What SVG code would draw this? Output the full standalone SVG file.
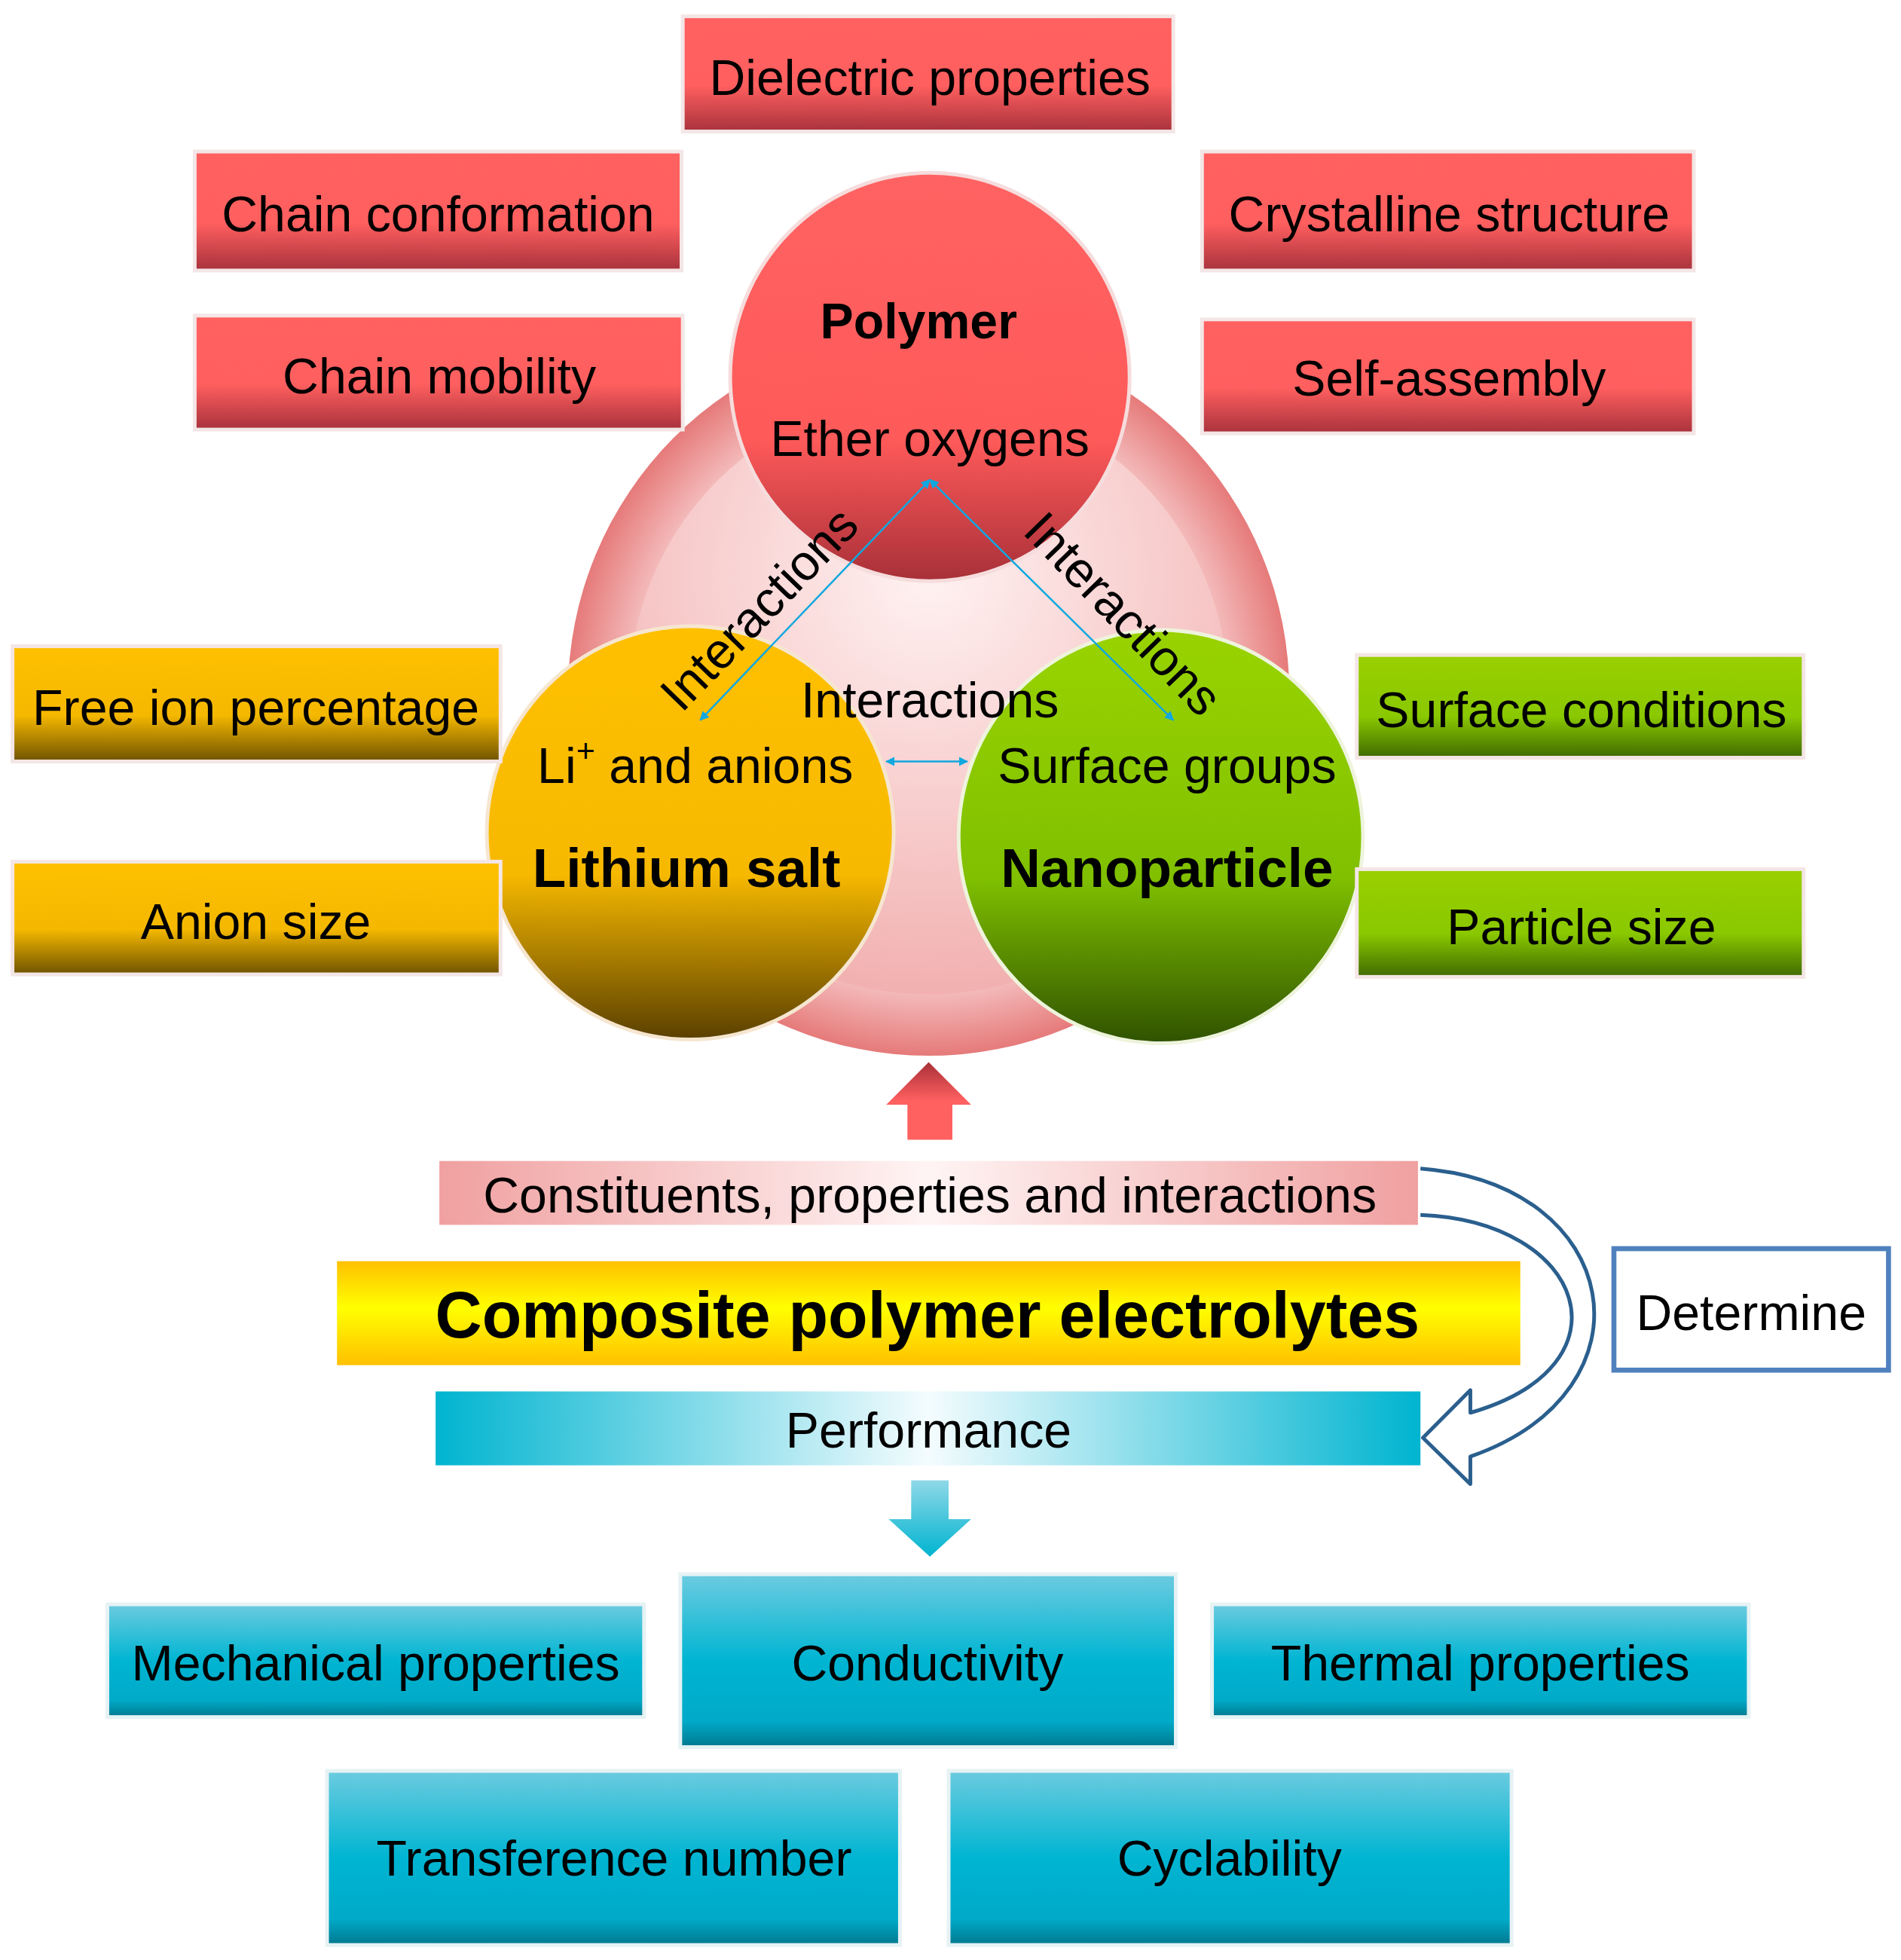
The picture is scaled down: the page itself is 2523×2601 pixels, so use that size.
<svg xmlns="http://www.w3.org/2000/svg" width="2523" height="2601" viewBox="0 0 2523 2601">
<defs>
<linearGradient id="gr" x1="0" y1="0" x2="0" y2="1"><stop offset="0" stop-color="#ff6060"/><stop offset="0.6" stop-color="#ff5f5f"/><stop offset="1" stop-color="#a8323c"/></linearGradient>
<linearGradient id="go" x1="0" y1="0" x2="0" y2="1"><stop offset="0" stop-color="#ffc000"/><stop offset="0.6" stop-color="#f5b800"/><stop offset="1" stop-color="#6e5200"/></linearGradient>
<linearGradient id="gg" x1="0" y1="0" x2="0" y2="1"><stop offset="0" stop-color="#99d000"/><stop offset="0.6" stop-color="#8ac800"/><stop offset="1" stop-color="#3f6a00"/></linearGradient>
<linearGradient id="gc" x1="0" y1="0" x2="0" y2="1"><stop offset="0" stop-color="#6ccbe0"/><stop offset="0.5" stop-color="#00b5d2"/><stop offset="0.85" stop-color="#00aac8"/><stop offset="1" stop-color="#00788f"/></linearGradient>
<linearGradient id="cpol" x1="0" y1="0" x2="0" y2="1"><stop offset="0" stop-color="#ff6262"/><stop offset="0.65" stop-color="#ff5a5a"/><stop offset="1" stop-color="#a83038"/></linearGradient>
<linearGradient id="clit" x1="0" y1="0" x2="0" y2="1"><stop offset="0" stop-color="#ffc000"/><stop offset="0.6" stop-color="#f7b900"/><stop offset="1" stop-color="#5a4000"/></linearGradient>
<linearGradient id="cnan" x1="0" y1="0" x2="0" y2="1"><stop offset="0" stop-color="#99d300"/><stop offset="0.6" stop-color="#80c000"/><stop offset="1" stop-color="#2f5200"/></linearGradient>
<radialGradient id="ring" cx="0.5" cy="0.5" r="0.5"><stop offset="0.8" stop-color="#f6c4c4"/><stop offset="1" stop-color="#e67a7a"/></radialGradient>
<radialGradient id="inner" cx="0.5" cy="0.3" r="0.7"><stop offset="0" stop-color="#fff2f2"/><stop offset="1" stop-color="#f2b0b0"/></radialGradient>
<linearGradient id="hpink" x1="0" y1="0" x2="1" y2="0"><stop offset="0" stop-color="#f0a0a0"/><stop offset="0.5" stop-color="#fff4f4"/><stop offset="1" stop-color="#f0a0a0"/></linearGradient>
<linearGradient id="hyel" x1="0" y1="0" x2="0" y2="1"><stop offset="0" stop-color="#ffc000"/><stop offset="0.45" stop-color="#ffff00"/><stop offset="1" stop-color="#ffc000"/></linearGradient>
<linearGradient id="hcy" x1="0" y1="0" x2="1" y2="0"><stop offset="0" stop-color="#00b4d0"/><stop offset="0.5" stop-color="#f4fcfe"/><stop offset="1" stop-color="#00b4d0"/></linearGradient>
<linearGradient id="redarr" x1="0" y1="0" x2="0" y2="1"><stop offset="0" stop-color="#a83038"/><stop offset="0.5" stop-color="#ff6060"/><stop offset="1" stop-color="#ff6060"/></linearGradient>
<linearGradient id="cyarr" x1="0" y1="0" x2="0" y2="1"><stop offset="0" stop-color="#8fd8e8"/><stop offset="1" stop-color="#00b4d0"/></linearGradient>
<marker id="ah" viewBox="0 0 10 10" refX="9" refY="5" markerWidth="5" markerHeight="5" orient="auto-start-reverse"><path d="M0,0 L10,5 L0,10 z" fill="#10a8e0"/></marker>
</defs>
<style>
text{font-family:"Liberation Sans",Arial,sans-serif;fill:#000;text-anchor:middle;dominant-baseline:central}
.t{font-size:40px}
.b{font-weight:bold}
.box{stroke:#f4e6e6;stroke-width:3}
.cbox{stroke:#e6f2f4;stroke-width:3}
.ln{stroke:#10a8e0;stroke-width:1.5;fill:none;marker-start:url(#ah);marker-end:url(#ah)}
</style>
<rect width="2523" height="2601" fill="#fff"/>
<g transform="scale(1.6566,1.662)">
<g id="ringbg"><circle cx="744" cy="554" r="289" fill="url(#ring)"/><circle cx="744" cy="554" r="240" fill="url(#inner)"/></g>
<g id="polymer"><ellipse cx="745" cy="301" rx="160" ry="163" fill="url(#cpol)" stroke="#f6dcdc" stroke-width="3"/><text x="736" y="256" class="t b">Polymer</text><text x="745" y="350" class="t">Ether oxygens</text></g>
<g id="lithium"><ellipse cx="553" cy="665" rx="163" ry="165" fill="url(#clit)" stroke="#f6e6d0" stroke-width="3"/><text x="557" y="611" class="t">Li<tspan dy="-12" font-size="26">+</tspan><tspan dy="12"> and anions</tspan></text><text x="550" y="693" class="b" font-size="44">Lithium salt</text></g>
<g id="nano"><ellipse cx="930" cy="668" rx="162" ry="165" fill="url(#cnan)" stroke="#eef4dc" stroke-width="3"/><text x="935" y="611" class="t">Surface groups</text><text x="935" y="693" class="b" font-size="44">Nanoparticle</text></g>
<g id="connectors">
<line x1="745" y1="383" x2="561" y2="575" class="ln"/>
<line x1="745" y1="383" x2="940" y2="575" class="ln"/>
<line x1="710" y1="608" x2="775" y2="608" class="ln"/>
<text x="745" y="559" class="t">Interactions</text>
<text transform="translate(608,486) rotate(-46)" class="t">Interactions</text>
<text transform="translate(900,490) rotate(46)" class="t">Interactions</text>
<path d="M710,882 L744,848 L778,882 L763,882 L763,910 L727,910 L727,882 Z" fill="url(#redarr)"/>
<path d="M1138,933 C1300,945 1330,1110 1178,1163 L1178,1185 L1140,1148 L1178,1110 L1178,1128 C1310,1090 1270,975 1138,970" fill="#fff" stroke="#2a5f8e" stroke-width="3" stroke-linejoin="round"/>
<path d="M730,1182 L760,1182 L760,1213 L778,1213 L745,1243 L712,1213 L730,1213 Z" fill="url(#cyarr)"/>
</g>
<g id="dielectric"><rect x="547" y="13" width="393" height="92" fill="url(#gr)" class="box"/><text x="745" y="62" class="t">Dielectric properties</text></g>
<g id="chainconf"><rect x="156" y="121" width="390" height="95" fill="url(#gr)" class="box"/><text x="351" y="171" class="t">Chain conformation</text></g>
<g id="crystal"><rect x="963" y="121" width="394" height="95" fill="url(#gr)" class="box"/><text x="1161" y="171" class="t">Crystalline structure</text></g>
<g id="chainmob"><rect x="156" y="252" width="391" height="91" fill="url(#gr)" class="box"/><text x="352" y="300" class="t">Chain mobility</text></g>
<g id="selfass"><rect x="963" y="255" width="394" height="91" fill="url(#gr)" class="box"/><text x="1161" y="302" class="t">Self-assembly</text></g>
<g id="freeion"><rect x="10" y="516" width="391" height="92" fill="url(#go)" class="box"/><text x="205" y="565" class="t">Free ion percentage</text></g>
<g id="anion"><rect x="10" y="688" width="391" height="90" fill="url(#go)" class="box"/><text x="205" y="736" class="t">Anion size</text></g>
<g id="surfcond"><rect x="1087" y="523" width="358" height="82" fill="url(#gg)" class="box"/><text x="1267" y="567" class="t">Surface conditions</text></g>
<g id="partsize"><rect x="1087" y="694" width="358" height="86" fill="url(#gg)" class="box"/><text x="1267" y="740" class="t">Particle size</text></g>
<g id="constituents"><rect x="352" y="927" width="784" height="51" fill="url(#hpink)"/><text x="745" y="954" class="t">Constituents, properties and interactions</text></g>
<g id="composite"><rect x="270" y="1007" width="948" height="83" fill="url(#hyel)"/><text x="743" y="1050" class="b" font-size="52">Composite polymer electrolytes</text></g>
<g id="performance"><rect x="349" y="1111" width="789" height="59" fill="url(#hcy)"/><text x="744" y="1142" class="t">Performance</text></g>
<g id="determine"><rect x="1293" y="997" width="220" height="97" fill="#fff" stroke="#4f81bd" stroke-width="4"/><text x="1403" y="1048" class="t">Determine</text></g>
<g id="mech"><rect x="86" y="1281" width="430" height="90" fill="url(#gc)" class="cbox"/><text x="301" y="1328" class="t">Mechanical properties</text></g>
<g id="cond"><rect x="545" y="1257" width="397" height="138" fill="url(#gc)" class="cbox"/><text x="743" y="1328" class="t">Conductivity</text></g>
<g id="thermal"><rect x="971" y="1281" width="430" height="90" fill="url(#gc)" class="cbox"/><text x="1186" y="1328" class="t">Thermal properties</text></g>
<g id="transf"><rect x="262" y="1414" width="459" height="139" fill="url(#gc)" class="cbox"/><text x="492" y="1484" class="t">Transference number</text></g>
<g id="cycl"><rect x="760" y="1414" width="451" height="139" fill="url(#gc)" class="cbox"/><text x="985" y="1484" class="t">Cyclability</text></g>
</g>
</svg>
